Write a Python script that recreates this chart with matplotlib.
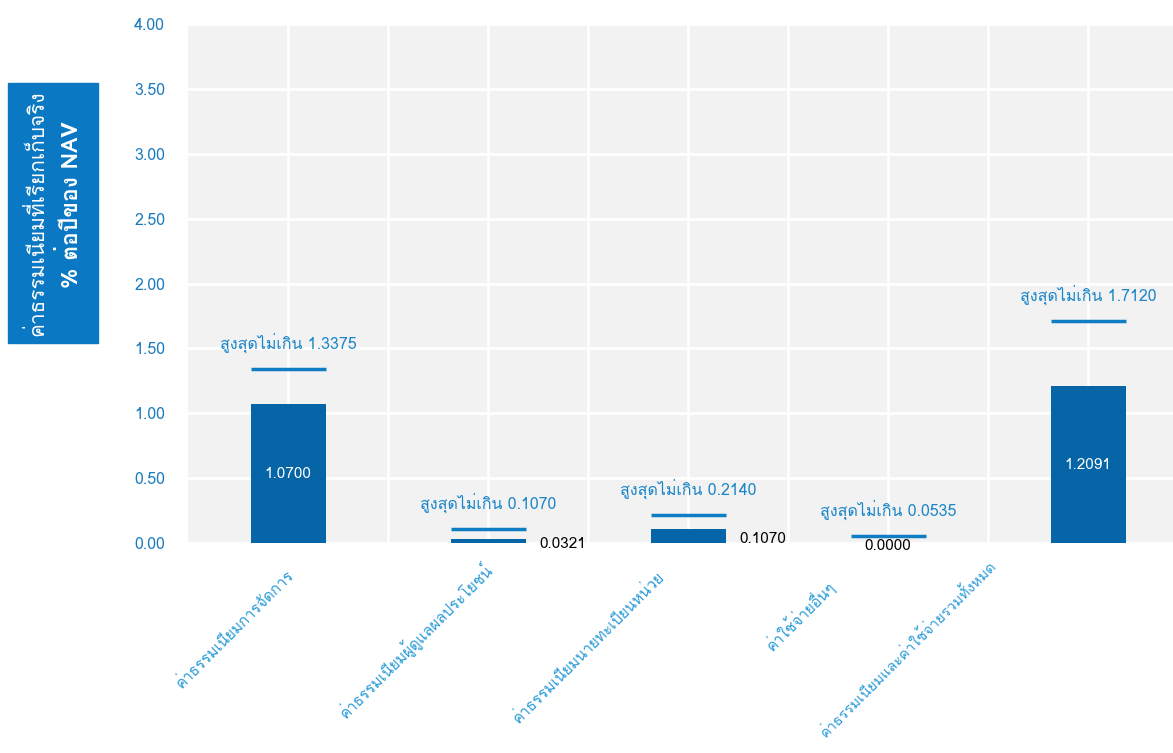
import matplotlib
matplotlib.use("Agg")
import matplotlib.pyplot as plt
from matplotlib import font_manager
from matplotlib.ft2font import FT2Font
from matplotlib.patches import Rectangle
import matplotlib.transforms as mtrans
import numpy as np


def thai_font():
    # หา font ที่มีตัวอักษรไทย
    for f in font_manager.fontManager.ttflist:
        try:
            cm = FT2Font(f.fname).get_charmap()
        except Exception:
            continue
        if 0x0E01 in cm and 0x0E40 in cm and 0x0E48 in cm:
            return f.name
    return "DejaVu Sans"


TH = thai_font()
plt.rcParams["font.family"] = [TH, "Liberation Sans", "DejaVu Sans"]

categories = ["ค่าธรรมเนียมการจัดการ",
              "ค่าธรรมเนียมผู้ดูแลผลประโยชน์",
              "ค่าธรรมเนียมนายทะเบียนหน่วย",
              "ค่าใช้จ่ายอื่นๆ",
              "ค่าธรรมเนียมและค่าใช้จ่ายรวมทั้งหมด"]
actual = [1.0700, 0.0321, 0.1070, 0.0000, 1.2091]
maximum = [1.3375, 0.1070, 0.2140, 0.0535, 1.7120]

# ตำแหน่งป้ายแกน x (pixel offset)
lab_dx = [-3, -6, -32, -63, -100]
lab_dy = [-24, -16, -25, -33, -14]
lab_fs = [11, 11, 11, 11, 10.5]

bar_col = "#0565a6"
max_col = "#0f7dc4"
txt_col = "#1a85c8"

fig = plt.figure(figsize=(11.73, 7.53), dpi=100)
ax = fig.add_axes([188 / 1173, 1 - 543 / 753, 1 - 188 / 1173, (543 - 24) / 753])
ax.set_facecolor("#f2f2f2")
for s in ax.spines.values():
    s.set_visible(False)

x = np.arange(len(categories))
w = 0.375
ax.bar(x, actual, w, color=bar_col, zorder=3)
ax.hlines(maximum, x - w / 2, x + w / 2, color=max_col, lw=2.5, zorder=4)

for i, (a, m) in enumerate(zip(actual, maximum)):
    ax.annotate("สูงสุดไม่เกิน %.4f" % m, (i, m), xytext=(0, 19), textcoords="offset points",
                ha="center", va="center", color=txt_col, fontsize=11.5, zorder=5)
    if a > 0.5:
        ax.text(i, a / 2, "%.4f" % a, ha="center", va="center", color="white", fontsize=11, zorder=5)
    elif a > 0:
        ax.annotate("%.4f" % a, (i + w / 2, a / 2), xytext=(10, -2), textcoords="offset points",
                    ha="left", va="center", color="black", fontsize=11, zorder=5)
    else:
        ax.annotate("%.4f" % a, (i, 0), xytext=(0, -2), textcoords="offset points",
                    ha="center", va="center", color="black", fontsize=11, zorder=5)

ax.set_xlim(-0.5, 4.425)
ax.set_ylim(0, 4)
ax.set_yticks(np.arange(0, 4.01, 0.5))
ax.set_yticklabels(["%.2f" % v for v in np.arange(0, 4.01, 0.5)])
ax.set_xticks(x)
ax.set_xticks(np.arange(0.5, 4.5, 1), minor=True)
ax.set_xticklabels([])
ax.tick_params(axis="both", which="both", length=0)
ax.tick_params(axis="y", colors="#1a7abf", labelsize=11.5, pad=16.5)
ax.grid(True, which="both", color="white", lw=2, zorder=0)
ax.set_axisbelow(True)

for i, c in enumerate(categories):
    off = mtrans.offset_copy(ax.transData, fig=fig, x=lab_dx[i], y=lab_dy[i], units="dots")
    ax.text(i, 0, c, transform=off, rotation=45, rotation_mode="anchor", ha="right", va="top",
            color="#2a9bd8", fontsize=lab_fs[i], clip_on=False)

# กล่องชื่อแกน y
fig.patches.append(Rectangle((8 / 1173, 1 - 343 / 753), 90 / 1173, 260 / 753,
                             transform=fig.transFigure, color="#0a78c2", zorder=0))
fig.text(36 / 1173, 1 - 213 / 753, "ค่าธรรมเนียมที่เรียกเก็บจริง", rotation=90, ha="center", va="center",
         color="white", fontsize=15)
fig.text(70 / 1173, 1 - 205 / 753, "% ต่อปีของ NAV", rotation=90, ha="center", va="center",
         color="white", fontsize=16.5, fontweight="bold")

fig.savefig("out.png", dpi=100)
